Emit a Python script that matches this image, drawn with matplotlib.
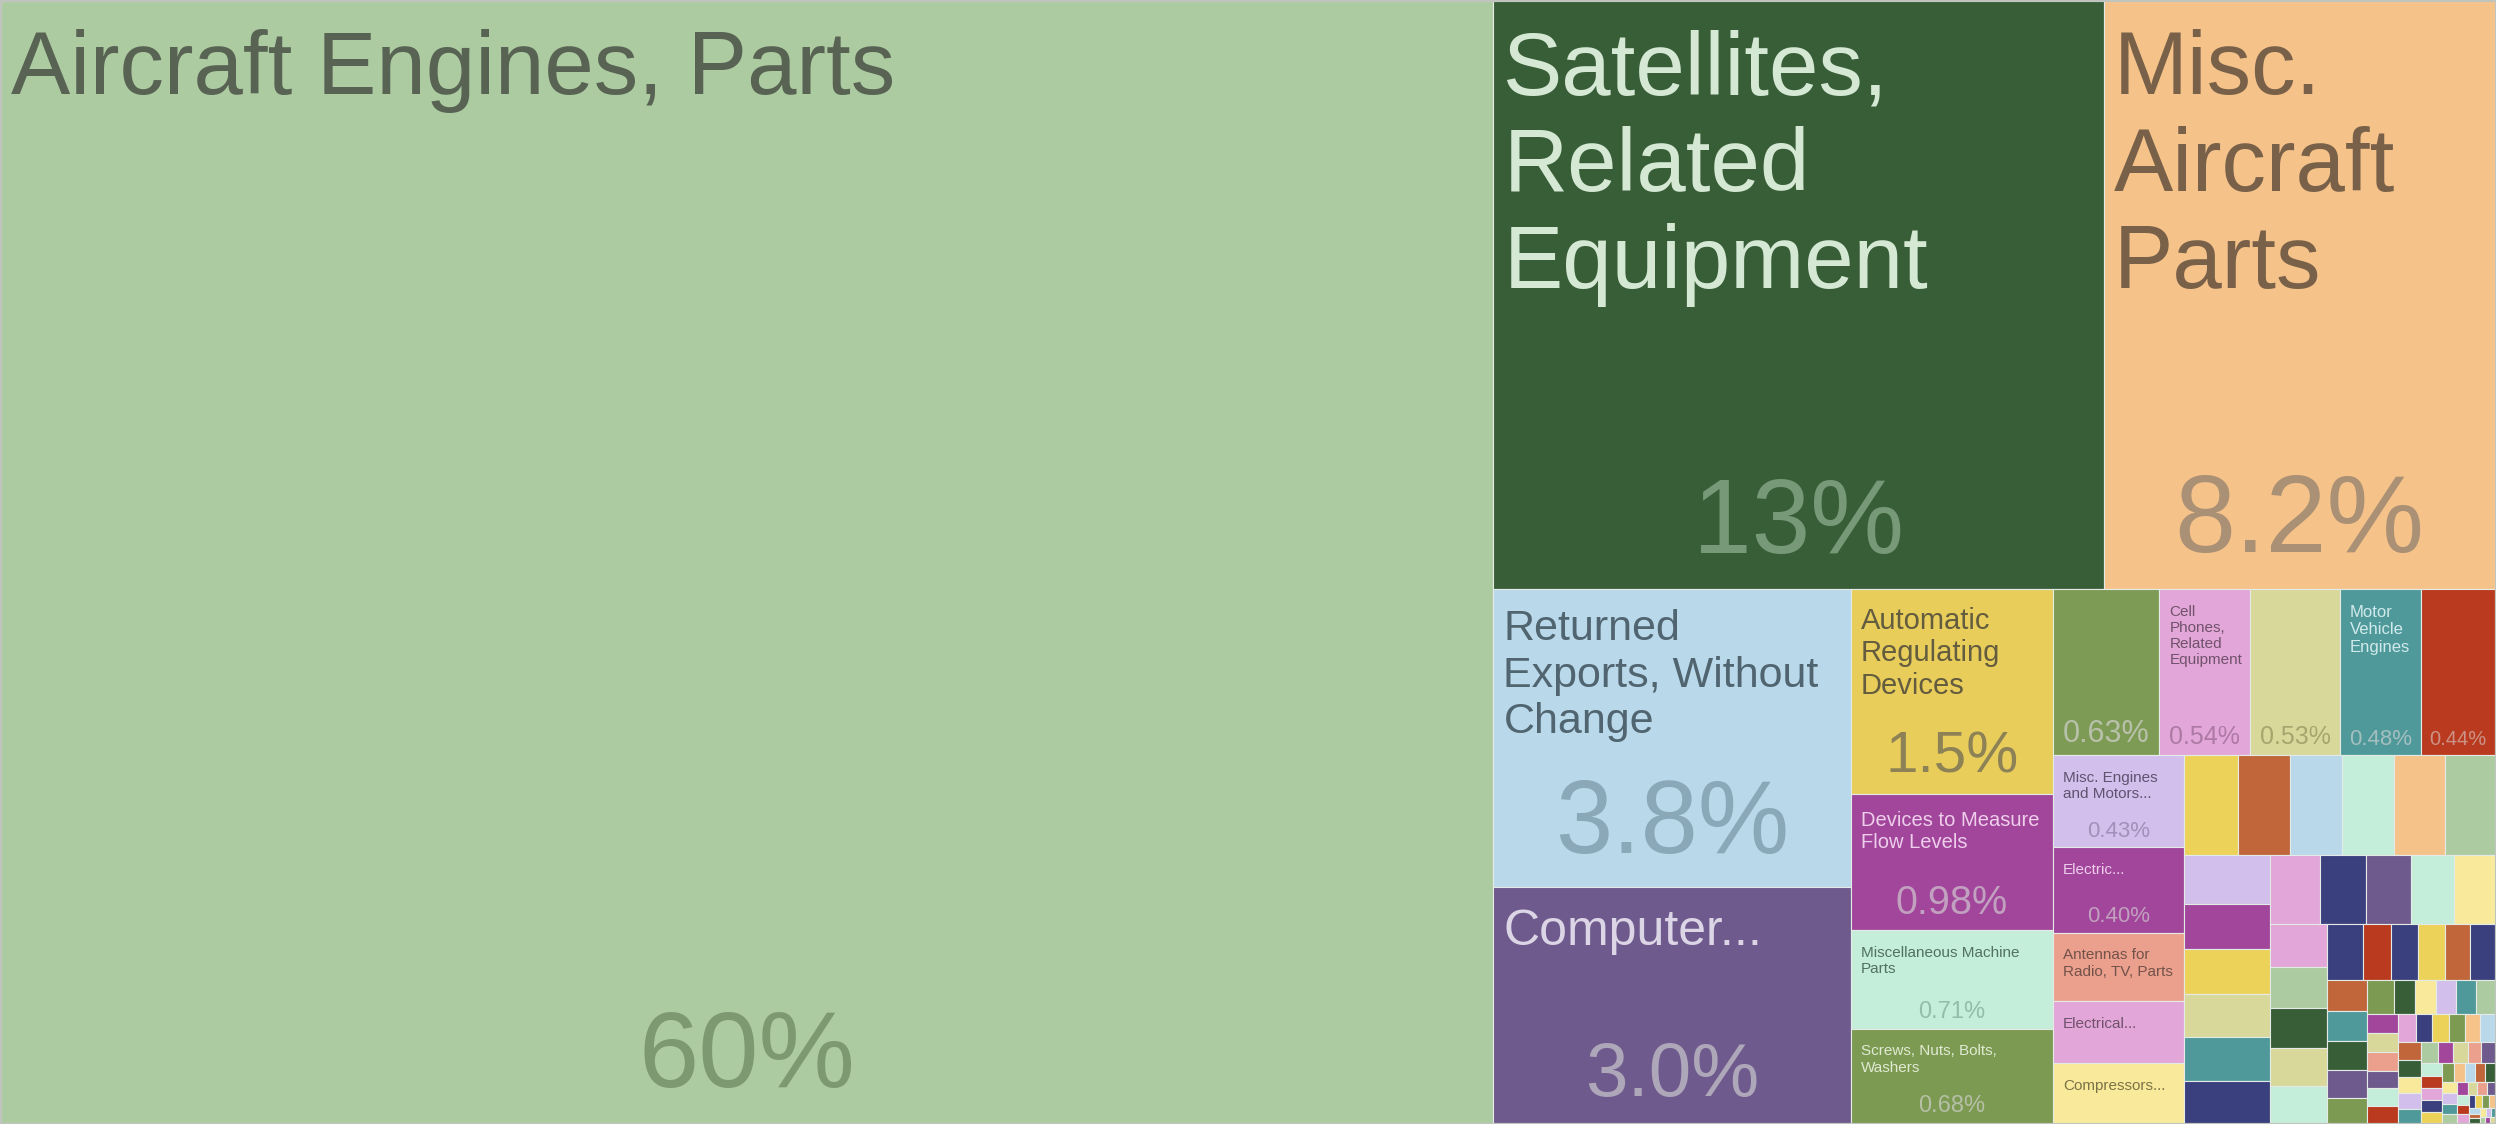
import colorsys
import matplotlib
matplotlib.use("Agg")
import matplotlib.pyplot as plt
import matplotlib.colors as mcolors
from matplotlib.patches import Rectangle
from matplotlib.textpath import TextPath
from matplotlib.font_manager import FontProperties

W, H, DPI = 2496, 1124, 100
FONT = "Liberation Sans"

# export shares (%), sorted largest first
names = [
    "Aircraft Engines, Parts", "Satellites, Related Equipment", "Misc. Aircraft Parts",
    "Returned Exports, Without Change", "Computer...", "Automatic Regulating Devices",
    "Devices to Measure Flow Levels", "Miscellaneous Machine Parts",
    "Screws, Nuts, Bolts, Washers", "", "Cell Phones, Related Equipment", "",
    "Motor Vehicle Engines", "", "Misc. Engines and Motors...", "Electric...",
    "Antennas for Radio, TV, Parts", "Electrical...", "Compressors...",
]
main_shares = [
    59.7, 12.8, 8.2, 3.8, 3.0,
    1.48, 0.98, 0.71, 0.68,
    0.63, 0.54, 0.53, 0.48, 0.44,
    0.43, 0.40, 0.32, 0.29, 0.28,
    0.19, 0.188, 0.185, 0.183, 0.181, 0.179,
    0.15, 0.138, 0.136, 0.134, 0.132, 0.13,
    0.122, 0.113, 0.108, 0.106, 0.10,
    0.088, 0.082, 0.080, 0.078, 0.074,
    0.072, 0.056, 0.055, 0.053, 0.051, 0.049,
    0.045, 0.042, 0.041, 0.040, 0.036, 0.033,
]
tiny_shares = [
    0.026, 0.025, 0.025, 0.024, 0.023, 0.022,
    0.021, 0.021, 0.020, 0.020, 0.019, 0.018,
    0.017, 0.017, 0.016, 0.016, 0.015, 0.015, 0.014,
    0.013, 0.013, 0.012, 0.012, 0.011, 0.011, 0.010, 0.010,
    0.0095, 0.009, 0.009, 0.0085, 0.008, 0.008, 0.0075, 0.007,
    0.007, 0.0065, 0.006, 0.006, 0.0055, 0.005, 0.005, 0.0045, 0.0045, 0.004,
    0.004, 0.0035, 0.0035, 0.003, 0.003, 0.003, 0.0025, 0.0025, 0.002, 0.002,
    0.002, 0.0015, 0.0015, 0.001, 0.001, 0.001,
]
shares = main_shares + tiny_shares

# cell colours
main_colors = [
    "#ADCBA1", "#385E37", "#F5C28A", "#B9D9EB", "#6E5A8C",
    "#E8CD5B", "#A1469B", "#C4EED9", "#7C9A52",
    "#7E9B56", "#E2A6D8", "#D9D89B", "#4F999A", "#B93A1F",
    "#D2BFEB", "#A1469B", "#EBA08E", "#E2A6D8", "#F9E99A",
    "#EDD25A", "#C0663A", "#B9D9EB", "#C4EED9", "#F5C28A", "#ADCBA1",
    "#D2BFEB", "#A1469B", "#EDD25A", "#D9D89B", "#4F999A", "#3A3F7D",
    "#E2A6D8", "#3A3F7D", "#6E5A8C", "#C4EED9", "#F9E99A",
    "#E2A6D8", "#ADCBA1", "#385E37", "#D9D89B", "#C4EED9",
    "#3A3F7D", "#B93A1F", "#3A3F7D", "#EDD25A", "#C0663A", "#3A3F7D",
    "#C0663A", "#4F999A", "#385E37", "#6E5A8C", "#7C9A52", "#7C9A52",
]
palette = ["#F9E99A", "#D2BFEB", "#4F999A", "#ADCBA1", "#A1469B", "#D9D89B",
           "#EBA08E", "#6E5A8C", "#C4EED9", "#B93A1F", "#E2A6D8", "#3A3F7D",
           "#EDD25A", "#7C9A52", "#F5C28A", "#B9D9EB", "#C0663A", "#385E37"]

# label font sizes (pt), by rank
name_pt = {0: 64, 1: 64, 2: 64, 3: 31, 4: 36, 5: 21, 6: 14.5, 7: 11, 8: 11,
           10: 11, 12: 12, 14: 11, 15: 11, 16: 11, 17: 11, 18: 11}
pct_pt = {0: 78, 1: 76, 2: 79, 3: 74, 4: 55, 5: 42, 6: 28.5, 7: 17, 8: 17,
          9: 22, 10: 18, 11: 18, 12: 16, 13: 14.5, 14: 16, 15: 16}


def squarify(vals, x0, y0, x1, y1, ratio=(1 + 5 ** 0.5) / 2):
    # d3-style squarified layout
    rects = []
    value = sum(vals)
    i0, n = 0, len(vals)
    while i0 < n:
        dx, dy = x1 - x0, y1 - y0
        s = vals[i0]
        i1 = i0 + 1
        vmin = vmax = s
        alpha = max(dy / dx, dx / dy) / (value * ratio)
        beta = s * s * alpha
        best = max(vmax / beta, beta / vmin)
        while i1 < n:
            v = vals[i1]
            s2 = s + v
            beta = s2 * s2 * alpha
            r = max(max(vmax, v) / beta, beta / min(vmin, v))
            if r > best:
                break
            s, best = s2, r
            vmin, vmax = min(vmin, v), max(vmax, v)
            i1 += 1
        row = vals[i0:i1]
        if dx < dy:
            yb = y0 + dy * s / value if i1 < n else y1
            xx = x0
            for v in row:
                w = dx * v / s
                rects.append((xx, y0, w, yb - y0))
                xx += w
            y0 = yb
        else:
            xb = x0 + dx * s / value if i1 < n else x1
            yy = y0
            for v in row:
                h = dy * v / s
                rects.append((x0, yy, xb - x0, h))
                yy += h
            x0 = xb
        value -= s
        i0 = i1
    return rects


fp = FontProperties(family=FONT)


def text_width(s, px):
    return TextPath((0, 0), s, size=px, prop=fp).get_extents().width


def wrap(label, px, maxw):
    lines, cur = [], ""
    for w in label.split():
        t = (cur + " " + w).strip()
        if cur and text_width(t, px) > maxw:
            lines.append(cur)
            cur = w
        else:
            cur = t
    lines.append(cur)
    return "\n".join(lines)


def shade(c, dl=0.0, l=None, sf=1.0, smax=1.0):
    h, L, s = colorsys.rgb_to_hls(*mcolors.to_rgb(c))
    L = l if l is not None else min(1.0, max(0.0, L + dl))
    return colorsys.hls_to_rgb(h, L, min(smax, s * sf))


def lum(c):
    r, g, b = [x / 12.92 if x <= 0.04045 else ((x + 0.055) / 1.055) ** 2.4
               for x in mcolors.to_rgb(c)]
    return 0.2126 * r + 0.7152 * g + 0.0722 * b


def fmt(v):
    if v >= 10:
        return f"{v:.0f}%"
    if v >= 1:
        return f"{v:.1f}%"
    return f"{v:.2f}%"


fig = plt.figure(figsize=(W / DPI, H / DPI), dpi=DPI)
ax = fig.add_axes([0, 0, 1, 1])
ax.set_xlim(0, W)
ax.set_ylim(H, 0)
ax.set_axis_off()

rects = squarify(shares, 1, 1, W - 1, H - 1)
for i, (x, y, w, h) in enumerate(rects):
    col = main_colors[i] if i < len(main_colors) else palette[i % len(palette)]
    ax.add_patch(Rectangle((x, y), w, h, facecolor=col, edgecolor="#e4eae6",
                           linewidth=0.8))
    L = colorsys.rgb_to_hls(*mcolors.to_rgb(col))[1]
    if lum(col) < 0.35:
        name_c = shade(col, l=0.87, sf=1.2)
        pct_c = shade(col, dl=0.24, sf=0.55)
    else:
        name_c = shade(col, l=min(0.5 * L, 0.38), sf=0.3)
        pct_c = shade(col, dl=-0.19, sf=0.55, smax=0.24)

    nm = names[i] if i < len(names) else ""
    if nm and i in name_pt:
        pt = name_pt[i]
        px = pt * DPI / 72
        txt = wrap(nm, px, w - 10 - 0.35 * px)
        ax.text(x + 10, y + 13 + 0.17 * px, txt, ha="left", va="top",
                fontsize=pt, color=name_c, family=FONT)
    if i in pct_pt:
        pt = pct_pt[i]
        px = pt * DPI / 72
        ax.text(x + w / 2, y + h - 0.3 * px - 4, fmt(shares[i]), ha="center",
                va="baseline", fontsize=pt, color=pct_c, family=FONT)

ax.add_patch(Rectangle((0.5, 0.5), W - 1, H - 1, fill=False, edgecolor="#bfc4bf",
                       linewidth=1.5))

fig.savefig("out.png", dpi=DPI)
